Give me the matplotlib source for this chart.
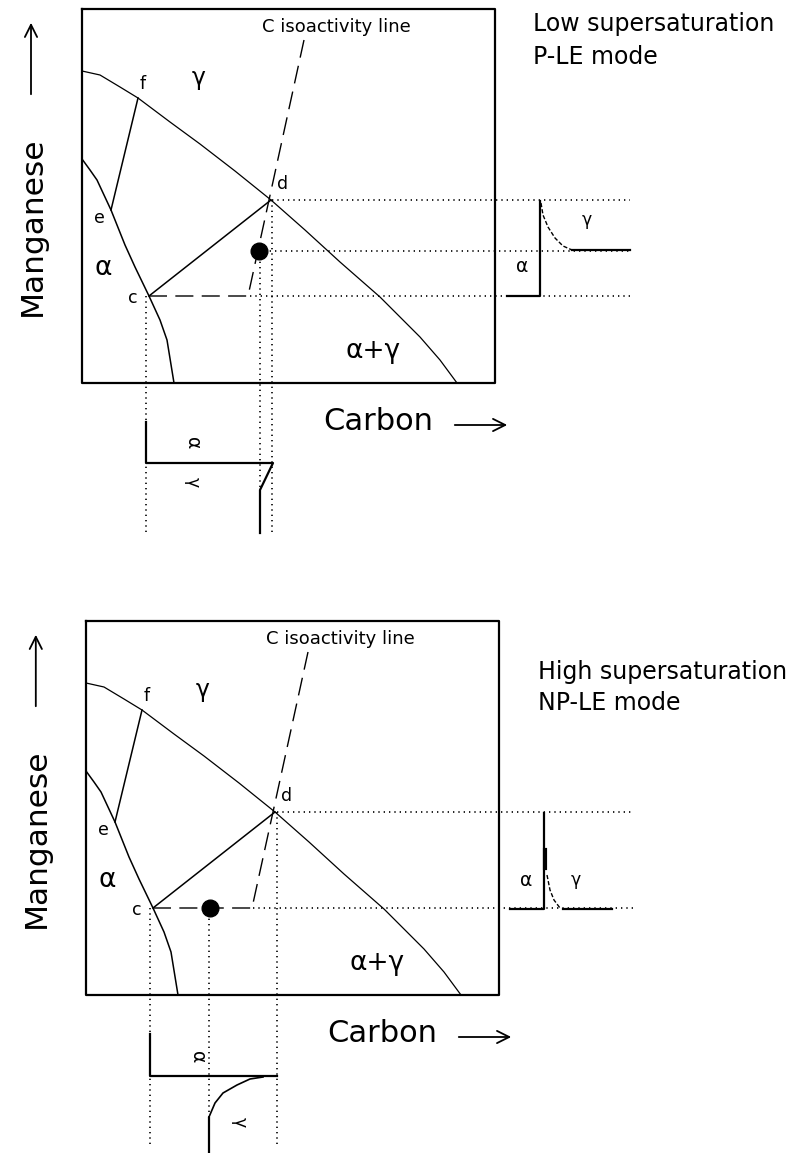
import numpy as np
import matplotlib.pyplot as plt

# Schematic Fe-C-Mn isothermal section, drawn in pixel coordinates (y down)
# upper panel geometry; the lower panel is the same diagram shifted
box_x = [82, 495, 495, 82, 82]
box_y = [9, 9, 383, 383, 9]

# gamma / (alpha+gamma) boundary
gamma_x = [82, 100, 120, 138, 170, 200, 235, 271, 305, 340, 380, 420, 440, 457]
gamma_y = [71, 75, 87, 98, 122, 144, 171, 200, 230, 262, 297, 337, 360, 383]

# alpha / (alpha+gamma) boundary
alpha_x = [82, 90, 97, 111, 125, 135, 149, 160, 167, 174]
alpha_y = [159, 170, 180, 210, 245, 267, 296, 320, 340, 383]

# tie lines e-f and c-d
tie_ef = ([111, 138], [210, 98])
tie_cd = ([149, 271], [296, 200])

# C isoactivity line (dashed) plus the dashed run back to c
iso_x = [304, 248, 149]
iso_y = [40, 296, 296]

panel_offsets = [(0, 0), (4, 612)]

# alloy composition (filled dot) in each panel
dot_x = [259, 210]
dot_y = [251, 908]

# dotted projection lines: (x0, x1, y0, y1)
dotted = [
    (146, 146, 296, 533), (260, 260, 251, 533), (272, 272, 200, 533),
    (272, 630, 200, 200), (259, 630, 251, 251), (250, 630, 296, 296),
    (150, 150, 908, 1145), (209, 209, 908, 1120), (277, 277, 812, 1145),
    (277, 633, 812, 812), (253, 633, 908, 908),
]

# concentration profiles across the interface (solid)
prof_solid = [
    ([507, 540, 540], [296, 296, 201]),
    ([572, 630], [250, 250]),
    ([146, 146, 273, 260, 260], [422, 463, 463, 490, 533]),
    ([510, 544, 544], [909, 909, 813]),
    ([563, 612], [909, 909]),
    ([150, 150, 277], [1034, 1076, 1076]),
    ([209, 209], [1153, 1118]),
]
# Mn spike / carbon diffusion tails
tail_top_x = [541, 543, 548, 555, 563, 572]
tail_top_y = [203, 215, 227, 238, 246, 250]
tail_bot_x = [547, 550, 554, 560]
tail_bot_y = [875, 890, 900, 908]
spike_x = [545, 545]
spike_y = [850, 868]
arc_x = [209, 215, 223, 237, 250, 263]
arc_y = [1117, 1103, 1093, 1085, 1079, 1077]

fig = plt.figure(figsize=(8.04, 11.53), dpi=100)
ax = fig.add_axes([0, 0, 1, 1])
ax.set_xlim(0, 804)
ax.set_ylim(1153, 0)
ax.axis('off')

dot_style = dict(color='black', lw=1.2, linestyle=(0, (0.8, 2.4)))
dash_style = dict(color='black', lw=1.0, linestyle=(0, (13, 6)))

for dx, dy in panel_offsets:
    sx = lambda v: np.array(v) + dx
    sy = lambda v: np.array(v) + dy
    ax.plot(sx(box_x), sy(box_y), color='black', lw=1.6)
    ax.plot(sx(gamma_x), sy(gamma_y), color='black', lw=0.9)
    ax.plot(sx(alpha_x), sy(alpha_y), color='black', lw=1.1)
    ax.plot(sx(tie_ef[0]), sy(tie_ef[1]), color='black', lw=1.1)
    ax.plot(sx(tie_cd[0]), sy(tie_cd[1]), color='black', lw=1.1)
    ax.plot(sx(iso_x), sy(iso_y), **dash_style)

    ax.text(262 + dx, 27 + dy, 'C isoactivity line', fontsize=13, va='center')
    ax.text(199 + dx, 78 + dy, 'γ', fontsize=17, ha='center', va='center')
    ax.text(103 + dx, 268 + dy, 'α', fontsize=19, ha='center', va='center')
    ax.text(373 + dx, 351 + dy, 'α+γ', fontsize=19, ha='center', va='center')
    ax.text(143 + dx, 84 + dy, 'f', fontsize=12.5, ha='center', va='center')
    ax.text(283 + dx, 184 + dy, 'd', fontsize=12.5, ha='center', va='center')
    ax.text(99 + dx, 218 + dy, 'e', fontsize=12.5, ha='center', va='center')
    ax.text(133 + dx, 298 + dy, 'c', fontsize=12.5, ha='center', va='center')

    # axis captions with arrows
    ax.text(32 + dx * 1.2, 226 + dy, 'Manganese', fontsize=22.5, rotation=90,
            ha='center', va='center')
    ax.annotate('', xy=(31 + dx * 1.2, 20 + dy), xytext=(31 + dx * 1.2, 97 + dy),
                arrowprops=dict(arrowstyle='->', lw=1.3, mutation_scale=22, color='black'))
    ax.text(378 + dx, 421 + dy, 'Carbon', fontsize=22, ha='center', va='center')
    ax.annotate('', xy=(510 + dx, 425 + dy), xytext=(452 + dx, 425 + dy),
                arrowprops=dict(arrowstyle='->', lw=1.3, mutation_scale=22, color='black'))

for x0, x1, y0, y1 in dotted:
    ax.plot([x0, x1], [y0, y1], **dot_style)

for xs, ys in prof_solid:
    ax.plot(xs, ys, color='black', lw=1.6)
ax.plot(tail_top_x, tail_top_y, color='black', lw=1.0, linestyle=(0, (3, 1.5)))
ax.plot(tail_bot_x, tail_bot_y, color='black', lw=1.0, linestyle=(0, (3, 1.5)))
ax.plot(spike_x, spike_y, color='black', lw=3.0)
ax.plot(arc_x, arc_y, color='black', lw=1.2)

ax.plot(dot_x, dot_y, 'o', color='black', markersize=12)

# profile labels
ax.text(587, 220, 'γ', fontsize=12.5, ha='center', va='center')
ax.text(522, 267, 'α', fontsize=13.5, ha='center', va='center')
ax.text(193, 443, 'α', fontsize=13.5, ha='center', va='center', rotation=-90)
ax.text(193, 482, 'γ', fontsize=12.5, ha='center', va='center', rotation=-90)
ax.text(576, 880, 'γ', fontsize=12.5, ha='center', va='center')
ax.text(526, 880, 'α', fontsize=13.5, ha='center', va='center')
ax.text(198, 1057, 'α', fontsize=13.5, ha='center', va='center', rotation=-90)
ax.text(240, 1122, 'γ', fontsize=12.5, ha='center', va='center', rotation=-90)

# mode annotations
ax.text(533, 24, 'Low supersaturation', fontsize=17, va='center')
ax.text(533, 57, 'P-LE mode', fontsize=17, va='center')
ax.text(538, 672, 'High supersaturation', fontsize=17, va='center')
ax.text(538, 703, 'NP-LE mode', fontsize=17, va='center')

fig.savefig('out.png', dpi=100)
